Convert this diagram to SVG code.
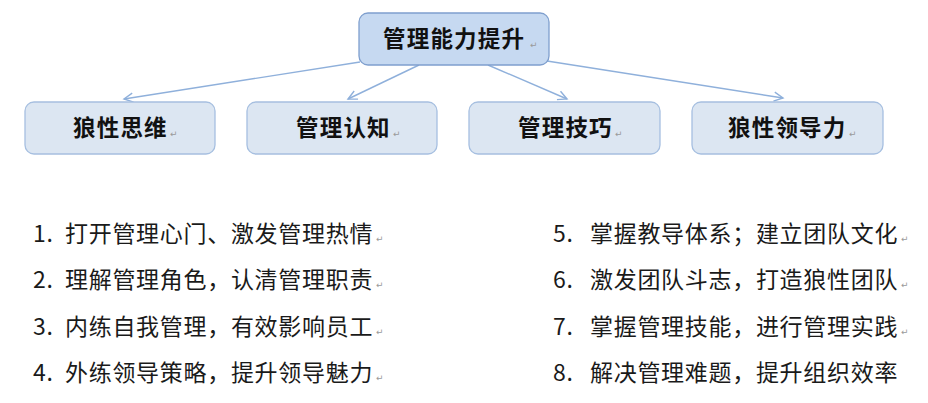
<svg xmlns="http://www.w3.org/2000/svg" width="928" height="403" viewBox="0 0 928 403">
<style>
.top{fill:#c6d9f1;stroke:#7f9fce;stroke-width:1.3}
.box{fill:#dce6f2;stroke:#a6bfe0;stroke-width:1.3}
.lbl{font-family:"Noto Sans CJK SC","Noto Sans",sans-serif;font-size:22.5px;font-weight:bold;fill:#111;letter-spacing:1.2px}
.ret{font-family:"DejaVu Sans",sans-serif;font-size:9px;fill:#9a9a9a}
.item{font-family:"Noto Sans CJK SC","Noto Sans",sans-serif;font-size:23px;fill:#1a1a1a;letter-spacing:0.7px}
.conn{stroke:#8fb0db;stroke-width:1.4;fill:none}
</style>
<defs>
<marker id="arr" markerUnits="userSpaceOnUse" markerWidth="14" markerHeight="14" viewBox="-12 -7 14 14" refX="0" refY="0" orient="auto">
<path d="M-9,-4.5 L0,0 L-9,4.5" fill="none" stroke="#8fb0db" stroke-width="1.4"/>
</marker>
</defs>
<g id="connectors">
<line class="conn" x1="360" y1="62" x2="124" y2="99" marker-end="url(#arr)"/>
<line class="conn" x1="419" y1="65" x2="348" y2="99" marker-end="url(#arr)"/>
<line class="conn" x1="488" y1="65" x2="567" y2="99" marker-end="url(#arr)"/>
<line class="conn" x1="547" y1="61" x2="783" y2="98" marker-end="url(#arr)"/>
</g>
<g id="root">
<rect class="top" x="359" y="13" width="190" height="52" rx="9"/>
<text class="lbl" x="383" y="47">管理能力提升</text>
<text class="ret" x="530" y="48">↵</text>
</g>
<g id="n1">
<rect class="box" x="25" y="102" width="190" height="52" rx="9"/>
<text class="lbl" x="73" y="136">狼性思维</text>
<text class="ret" x="170" y="137">↵</text>
</g>
<g id="n2">
<rect class="box" x="247" y="102" width="190" height="52" rx="9"/>
<text class="lbl" x="296" y="136">管理认知</text>
<text class="ret" x="393" y="137">↵</text>
</g>
<g id="n3">
<rect class="box" x="469" y="102" width="191" height="52" rx="9"/>
<text class="lbl" x="518" y="136">管理技巧</text>
<text class="ret" x="615" y="137">↵</text>
</g>
<g id="n4">
<rect class="box" x="692" y="102" width="191" height="52" rx="9"/>
<text class="lbl" x="728" y="136">狼性领导力</text>
<text class="ret" x="849" y="137">↵</text>
</g>
<g id="list">
<text class="item" y="241.5"><tspan x="33">1.</tspan><tspan x="65">打开管理心门、激发管理热情</tspan></text>
<text class="ret" x="376" y="242">↵</text>
<text class="item" y="287.5"><tspan x="33">2.</tspan><tspan x="65">理解管理角色，认清管理职责</tspan></text>
<text class="ret" x="376" y="288">↵</text>
<text class="item" y="334.5"><tspan x="33">3.</tspan><tspan x="65">内练自我管理，有效影响员工</tspan></text>
<text class="ret" x="376" y="335">↵</text>
<text class="item" y="380.5"><tspan x="33">4.</tspan><tspan x="65">外练领导策略，提升领导魅力</tspan></text>
<text class="ret" x="376" y="381">↵</text>
<text class="item" y="241.5"><tspan x="553">5.</tspan><tspan x="590">掌握教导体系；建立团队文化</tspan></text>
<text class="ret" x="901" y="242">↵</text>
<text class="item" y="287.5"><tspan x="553">6.</tspan><tspan x="590">激发团队斗志，打造狼性团队</tspan></text>
<text class="ret" x="901" y="288">↵</text>
<text class="item" y="334.5"><tspan x="553">7.</tspan><tspan x="590">掌握管理技能，进行管理实践</tspan></text>
<text class="ret" x="901" y="335">↵</text>
<text class="item" y="380.5"><tspan x="553">8.</tspan><tspan x="590">解决管理难题，提升组织效率</tspan></text>
</g>
</svg>
